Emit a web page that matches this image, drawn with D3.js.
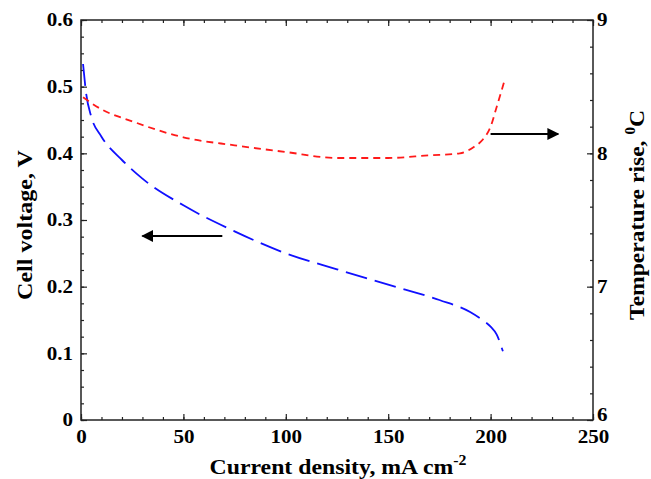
<!DOCTYPE html>
<html>
<head>
<meta charset="utf-8">
<script src="https://cdn.jsdelivr.net/npm/d3@7"></script>
<style>
  body { margin: 0; background: #fff; }
  text { font-family: "Liberation Serif", "Times New Roman", serif; font-weight: bold; }
</style>
</head>
<body>
<div id="chart"></div>
<script>
// values
const currentV = [1, 2.5, 5, 10, 20, 30, 50, 75, 100, 125, 150, 175, 190, 196, 200, 203, 206];
const voltage  = [0.534, 0.49, 0.455, 0.425, 0.39, 0.362, 0.322, 0.283, 0.25, 0.226, 0.203, 0.18, 0.162, 0.15, 0.14, 0.128, 0.103];
const currentT = [1, 10, 25, 50, 75, 100, 125, 150, 170, 185, 192, 196, 200, 203, 206.5];
const tempRise = [8.42, 8.33, 8.24, 8.12, 8.06, 8.01, 7.965, 7.965, 7.985, 8.0, 8.05, 8.1, 8.2, 8.35, 8.53];
const xTicks = [0, 50, 100, 150, 200, 250];
const yTicks = [0, 0.1, 0.2, 0.3, 0.4, 0.5, 0.6];
const y2Ticks = [6, 7, 8, 9];

let size = {width: 651, height: 479};
let margins = {top: 20, right: 58, bottom: 59, left: 81};
let w = size.width - margins.left - margins.right;
let h = size.height - margins.top - margins.bottom;

let svg = d3.select('#chart').append('svg')
  .attr('width', size.width)
  .attr('height', size.height);
let g = svg.append('g').attr('transform', `translate(${margins.left},${margins.top})`);

let x = d3.scaleLinear().domain([0, 250]).range([0, w]);
let y = d3.scaleLinear().domain([0, 0.6]).range([h, 0]);
let y2 = d3.scaleLinear().domain([6, 9]).range([h, 0]);

// inward ticks, minor first then major
function tickAxis(axisFn, scale, minor, major, fmt, labels, pad) {
  let a1 = g.append('g').call(axisFn(scale).tickValues(minor).tickSize(-3).tickFormat(''));
  let a2 = g.append('g').call(axisFn(scale).tickValues(major).tickSize(-6).tickPadding(pad || 9).tickFormat(labels ? fmt : ''));
  return [a1, a2];
}
let xMinor = d3.range(0, 251, 10);
let yMinor = d3.range(0, 0.601, 0.025);
let y2Minor = d3.range(6, 9.001, 0.2);

let xBottom = tickAxis(d3.axisBottom, x, xMinor, xTicks, d3.format('d'), true, 6);
xBottom.forEach(a => a.attr('transform', `translate(0,${h})`));
let xTop = tickAxis(d3.axisTop, x, xMinor, xTicks, null, false);
let yLeft = tickAxis(d3.axisLeft, y, yMinor, yTicks, d => d === 0 ? '0' : d3.format('.1f')(d), true, 8);
let yRight = tickAxis(d3.axisRight, y2, y2Minor, y2Ticks, d3.format('d'), true, 4);
yRight.forEach(a => a.attr('transform', `translate(${w},0)`));

g.selectAll('.domain').remove();
g.selectAll('.tick line').attr('stroke', '#222').attr('stroke-width', 1.2);
g.selectAll('.tick text').attr('font-size', 18).attr('fill', '#000')
  .each(function() {
    // the reference glyphs are a bit wider than plain Times
    let len = this.getComputedTextLength();
    d3.select(this).attr('textLength', len * 1.17).attr('lengthAdjust', 'spacingAndGlyphs');
  });
xBottom[1].selectAll('.tick text').attr('dy', '0.95em');
// the lowest right label sits a little high, clear of "250"
yRight[1].selectAll('.tick text').filter(d => d === 6).attr('dy', '0.05em');

g.append('rect')
  .attr('width', w).attr('height', h)
  .attr('fill', 'none').attr('stroke', '#222').attr('stroke-width', 1.5);

// curves
let lineV = d3.line().x(d => x(d[0])).y(d => y(d[1])).curve(d3.curveMonotoneX);
let lineT = d3.line().x(d => x(d[0])).y(d => y2(d[1])).curve(d3.curveMonotoneX);

g.append('path')
  .attr('d', lineV(d3.zip(currentV, voltage)))
  .attr('fill', 'none').attr('stroke', '#1010ff').attr('stroke-width', 1.8)
  .attr('stroke-dasharray', '22,8');

g.append('path')
  .attr('d', lineT(d3.zip(currentT, tempRise)))
  .attr('fill', 'none').attr('stroke', '#ff1a1a').attr('stroke-width', 1.8)
  .attr('stroke-dasharray', '7,5');

// arrows
svg.append('defs').append('marker')
  .attr('id', 'head').attr('viewBox', '0 0 10 10')
  .attr('refX', 9).attr('refY', 5)
  .attr('markerWidth', 6).attr('markerHeight', 6)
  .attr('markerUnits', 'strokeWidth')
  .attr('orient', 'auto')
  .append('path').attr('d', 'M0,0 L10,5 L0,10 z').attr('fill', '#000');

g.append('line')
  .attr('x1', x(69)).attr('x2', x(30))
  .attr('y1', y(0.276)).attr('y2', y(0.276))
  .attr('stroke', '#000').attr('stroke-width', 2)
  .attr('marker-end', 'url(#head)');
g.append('line')
  .attr('x1', x(200)).attr('x2', x(233))
  .attr('y1', y2(8.145)).attr('y2', y2(8.145))
  .attr('stroke', '#000').attr('stroke-width', 2)
  .attr('marker-end', 'url(#head)');

// axis titles, fitted to the lengths seen in the reference
function fit(sel, target) {
  let len = sel.node().getComputedTextLength();
  return target / len;
}

let xt = svg.append('text')
  .attr('text-anchor', 'middle').attr('font-size', 21);
xt.append('tspan').text('Current density, mA cm');
xt.append('tspan').attr('dy', -9).attr('font-size', 14).text('-2');
let sx = fit(xt, 257);
xt.attr('transform', `translate(338,474) scale(${sx},1)`);

let yl = svg.append('text')
  .attr('text-anchor', 'middle').attr('font-size', 22)
  .text('Cell voltage, V');
let sl = fit(yl, 150);
yl.attr('transform', `translate(32,225) rotate(-90) scale(${sl},1)`);

let yt = svg.append('text')
  .attr('text-anchor', 'middle').attr('font-size', 22);
yt.append('tspan').text('Temperature rise, ');
yt.append('tspan').attr('dy', -9).attr('font-size', 14).text('0');
yt.append('tspan').attr('dy', 9).text('C');
let sr = fit(yt, 210);
yt.attr('transform', `translate(644,215) rotate(-90) scale(${sr},1)`);
</script>
</body>
</html>
